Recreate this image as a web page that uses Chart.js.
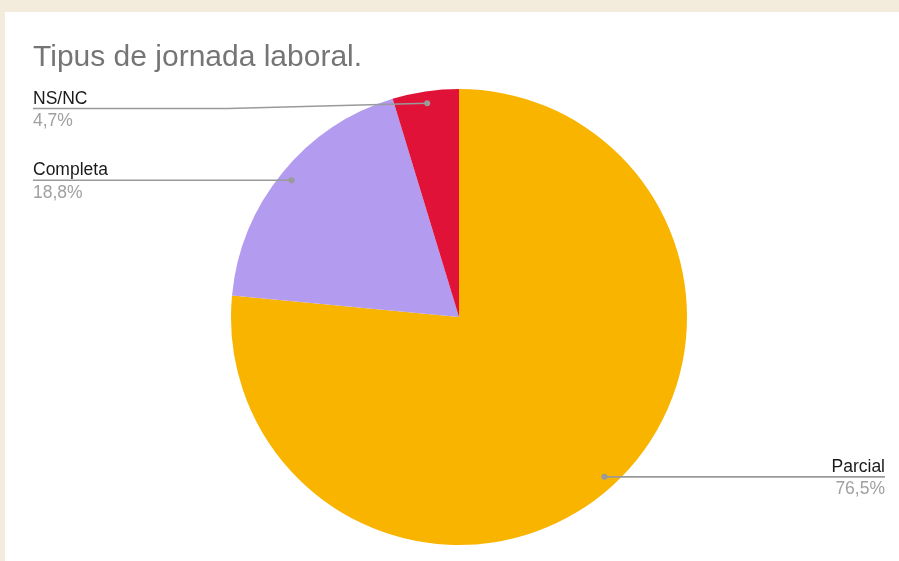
<!DOCTYPE html>
<html>
<head>
<meta charset="utf-8">
<script src="https://cdn.jsdelivr.net/npm/chart.js@4"></script>
<style>
  html, body { margin: 0; padding: 0; background: #f3ecdc; width: 899px; height: 561px; overflow: hidden; }
  #card { position: absolute; left: 5px; top: 12px; width: 894px; height: 549px; background: #fff; }
</style>
</head>
<body>
<div id="card"><canvas id="pieChart"></canvas></div>
<script>
const titleText = "Tipus de jornada laboral.";
const categories = ["Parcial", "Completa", "NS/NC"];
const shares = [76.5, 18.8, 4.7];
const sliceColors = ["#f9b400", "#b39bef", "#e11238"];

const FONT = "'Liberation Sans', Arial, sans-serif";

// leader lines + labels like the Google chart callouts
const calloutPlugin = {
  id: "callouts",
  afterDatasetsDraw(chart) {
    const ctx = chart.ctx;
    const meta = chart.getDatasetMeta(0);
    const total = shares.reduce((a, b) => a + b, 0);
    const leftX = chart.chartArea.left;
    const rightX = chart.width - 14;
    const minY = 96.5;

    meta.data.forEach((arc, i) => {
      const mid = (arc.startAngle + arc.endAngle) / 2;
      const r = arc.outerRadius * 0.948;
      const dx = arc.x + Math.cos(mid) * r;
      const dy = arc.y + Math.sin(mid) * r;
      const onRight = Math.cos(mid) > 0;
      const lineY = Math.max(dy, minY);
      const endX = onRight ? rightX : leftX;

      ctx.save();
      ctx.strokeStyle = "#9a9a9a";
      ctx.lineWidth = 1.6;
      ctx.beginPath();
      ctx.moveTo(endX, lineY);
      if (lineY !== dy) {
        const bendX = onRight ? rightX - 195 : leftX + 195;
        ctx.lineTo(bendX, lineY);
      }
      ctx.lineTo(dx, dy);
      ctx.stroke();

      ctx.fillStyle = "#9a9a9a";
      ctx.beginPath();
      ctx.arc(dx, dy, 3, 0, Math.PI * 2);
      ctx.fill();

      ctx.textAlign = onRight ? "right" : "left";
      ctx.textBaseline = "alphabetic";
      ctx.font = "17.5px " + FONT;
      ctx.fillStyle = "#1a1a1a";
      ctx.fillText(categories[i], endX, lineY - 5);
      ctx.fillStyle = "#a0a0a0";
      const pct = (shares[i] / total * 100).toFixed(1).replace(".", ",") + "%";
      ctx.fillText(pct, endX, lineY + 17.5);
      ctx.restore();
    });
  }
};

new Chart(document.getElementById("pieChart"), {
  type: "pie",
  data: {
    labels: categories,
    datasets: [
      {
        data: shares,
        backgroundColor: sliceColors,
        borderWidth: 0,
      },
    ],
  },
  options: {
    responsive: true,
    maintainAspectRatio: false,
    animation: false,
    layout: {
      padding: { top: 0, left: 28, right: 14, bottom: 16 },
    },
    plugins: {
      legend: { display: false },
      tooltip: { enabled: false },
      title: {
        display: true,
        text: titleText,
        align: "start",
        color: "#757575",
        font: { family: FONT, size: 30, weight: "normal", lineHeight: 1.2 },
        padding: { top: 27.6, bottom: 13.4 },
      },
    },
  },
  plugins: [calloutPlugin],
});
</script>
</body>
</html>
